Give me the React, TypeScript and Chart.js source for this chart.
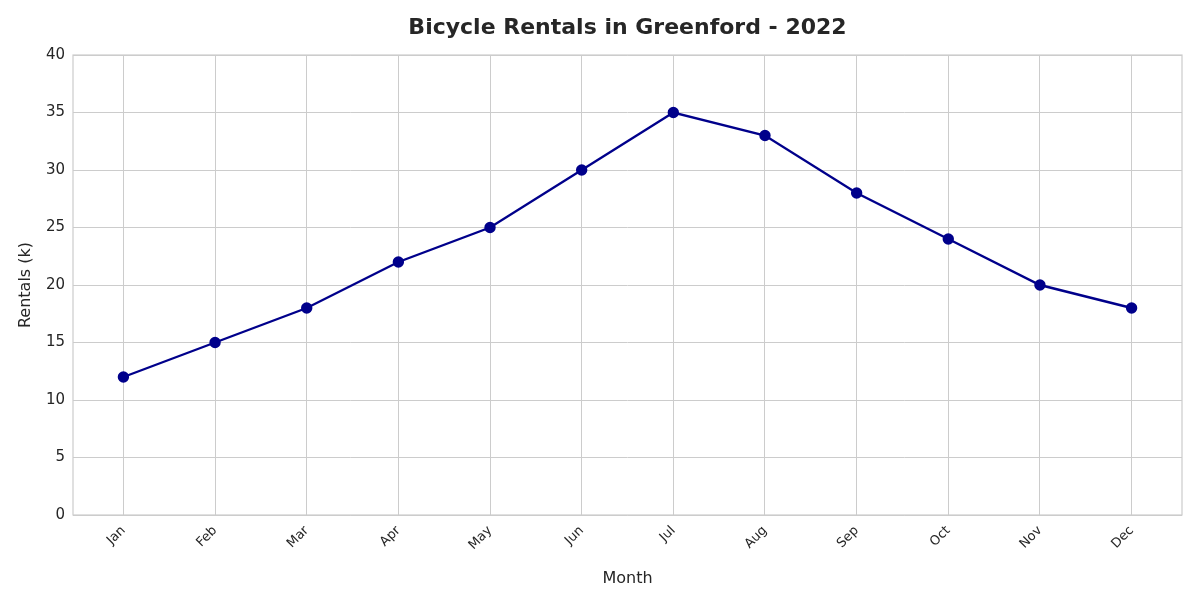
import React, { useEffect, useRef } from "react";
import { Chart, registerables } from "chart.js";
Chart.register(...registerables);

const months = ["Jan","Feb","Mar","Apr","May","Jun","Jul","Aug","Sep","Oct","Nov","Dec"];
const rentals = [12,15,18,22,25,30,35,33,28,24,20,18];
const yTicks = [0,5,10,15,20,25,30,35,40];
const titleText = "Bicycle Rentals in Greenford - 2022";
const font = "'DejaVu Sans', sans-serif";

const framePlugin = {
  id: "frameBorder",
  afterDraw(chart: any) {
    const { ctx, chartArea: a } = chart;
    ctx.save();
    ctx.strokeStyle = "#cccccc";
    ctx.lineWidth = 1.2;
    ctx.strokeRect(a.left, a.top, a.right - a.left, a.bottom - a.top);
    ctx.fillStyle = "#262626";
    ctx.font = `bold 22px ${font}`;
    ctx.textAlign = "center";
    ctx.textBaseline = "middle";
    ctx.fillText(titleText, (a.left + a.right) / 2, 28);
    ctx.restore();
  },
};

export default function App() {
  const ref = useRef<HTMLCanvasElement>(null);
  useEffect(() => {
    document.body.style.margin = "0";
    const chart = new Chart(ref.current!, {
      type: "line",
      data: {
        datasets: [{
          data: rentals.map((v, i) => ({ x: i, y: v })),
          borderColor: "#00008b",
          backgroundColor: "#00008b",
          borderWidth: 2.4,
          pointRadius: 4.5,
          pointHoverRadius: 4.5,
          tension: 0,
        }],
      },
      options: {
        animation: false,
        responsive: false,
        layout: { padding: { left: 12, right: 18, top: 55, bottom: 0 } },
        plugins: {
          legend: { display: false },
          tooltip: { enabled: false },
          title: { display: false },
        },
        scales: {
          x: {
            type: "linear",
            min: -0.55,
            max: 11.55,
            afterBuildTicks: (s: any) => { s.ticks = months.map((_, i) => ({ value: i })); },
            afterFit: (s: any) => { s.height = 85; },
            ticks: {
              callback: (v: any) => months[v] ?? "",
              maxRotation: 45,
              minRotation: 45,
              color: "#262626",
              font: { family: font, size: 13 },
              padding: 8,
            },
            grid: { color: "#cccccc", drawTicks: false },
            border: { display: false },
            title: { display: true, text: "Month", color: "#262626", font: { family: font, size: 16 }, padding: { top: 0, bottom: 12 } },
          },
          y: {
            min: 0,
            max: 40,
            afterBuildTicks: (s: any) => { s.ticks = yTicks.map((v) => ({ value: v })); },
            afterFit: (s: any) => { s.width = 61; },
            ticks: { color: "#262626", font: { family: font, size: 15 }, padding: 8 },
            grid: { color: "#cccccc", drawTicks: false },
            border: { display: false },
            title: { display: true, text: "Rentals (k)", color: "#262626", font: { family: font, size: 16 }, padding: { bottom: 4 } },
          },
        },
      },
      plugins: [framePlugin],
    });
    return () => chart.destroy();
  }, []);
  return <canvas ref={ref} width={1200} height={600} style={{ display: "block" }} />;
}
